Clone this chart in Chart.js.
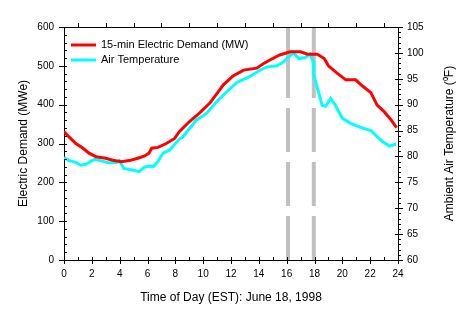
<!DOCTYPE html>
<html>
<head>
<meta charset="utf-8">
<script src="https://cdn.jsdelivr.net/npm/chart.js@4.4.1/dist/chart.umd.min.js"></script>
<style>
    html, body { margin: 0; padding: 0; background: #ffffff; }
    #wrap { width: 469px; height: 321px; }
</style>
</head>
<body>
<div id="wrap"><canvas id="demandChart" width="469" height="321"></canvas></div>
<script>
// 15-min electric demand (MW)
const demandHours = [0, 0.36, 0.85, 1.32, 1.8, 2.3, 3.0, 3.5, 4.1, 4.7, 5.3, 5.8, 6.1, 6.3, 6.75, 7.35, 7.95, 8.3, 9.0, 9.75,
    10.5, 11.0, 11.45, 12.15, 12.9, 13.85, 14.35, 14.8, 15.5, 16.25, 17.0, 17.5, 18.2, 18.7, 19.0, 19.6, 20.25, 20.95,
    21.45, 22.05, 22.5, 23.0, 23.5, 23.9];
const demandMW = [331, 317, 300, 289, 275, 266, 262, 257, 253, 256, 262, 268, 275, 288, 290, 300, 313, 331, 356, 379,
    405, 429, 451, 474, 489, 494, 506, 515, 528, 536, 536, 530, 530, 519, 500, 482, 464, 464,
    448, 431, 399, 382, 361, 341];

// ambient air temperature (F)
const tempHours = [0, 0.36, 0.85, 1.2, 1.56, 1.9, 2.2, 2.6, 3.2, 3.8, 3.97, 4.3, 4.9, 5.4, 5.75, 6.1, 6.4, 6.75, 7.1, 7.6,
    8.27, 8.55, 9.5, 10.24, 10.97, 11.7, 12.4, 13.4, 14.1, 14.6, 15.3, 15.8, 16.0, 16.5, 16.87, 17.35, 17.7, 17.9,
    17.95, 18.25, 18.55, 18.8, 19.16, 19.5, 20.0, 20.6, 21.3, 22.05, 22.5, 22.9, 23.4, 23.86];
const tempF = [79.8, 79.2, 78.85, 78.3, 78.5, 79.0, 79.45, 79.2, 78.8, 78.85, 79.2, 77.7, 77.4, 77.05, 77.9, 78.15, 78.0, 79.0, 80.6, 81.25,
    83.3, 83.8, 87.0, 88.3, 90.6, 92.5, 94.25, 95.5, 96.7, 97.3, 97.5, 98.3, 98.9, 100.0, 98.9, 99.1, 99.8, 98.3,
    95.7, 92.8, 89.9, 89.7, 91.2, 89.9, 87.35, 86.4, 85.6, 85.0, 83.8, 82.85, 82.0, 82.4];

// gray dashed event markers (hour of day)
const eventHours = [16.1, 17.95];

const seriesLabels = ["15-min Electric Demand (MW)", "Air Temperature"];
const hourRange = [0, 24];
const demandRange = [0, 600];
const tempRange = [60, 105];
const rightAxisTitle = "Ambient Air Temperature (\u2070F)";

const fontFamily = "'Liberation Sans', Arial, sans-serif";

function toPoints(xs, ys) {
    return xs.map(function (x, i) { return { x: x, y: ys[i] }; });
}

const frameTicksPlugin = {
    id: "frameTicks",
    afterDraw: function (chart) {
        const ctx = chart.ctx;
        const area = chart.chartArea;
        const xs = chart.scales.x;
        const ys = chart.scales.y;
        const ys1 = chart.scales.y1;

        ctx.save();
        ctx.strokeStyle = "#000000";
        ctx.lineWidth = 1;
        ctx.beginPath();

        // top edge of the frame
        ctx.moveTo(area.left, Math.round(area.top) + 0.5);
        ctx.lineTo(area.right, Math.round(area.top) + 0.5);

        // left axis: major 100, minor 20
        for (let v = demandRange[0]; v <= demandRange[1]; v += 20) {
            const p = Math.round(ys.getPixelForValue(v)) + 0.5;
            const major = v % 100 === 0;
            ctx.moveTo(area.left - (major ? 5 : 0), p);
            ctx.lineTo(area.left + 3, p);
        }

        // right axis: major 5, minor 1
        for (let v = tempRange[0]; v <= tempRange[1]; v += 1) {
            const p = Math.round(ys1.getPixelForValue(v)) + 0.5;
            const major = v % 5 === 0;
            ctx.moveTo(area.right - (major ? 3 : 0), p);
            ctx.lineTo(area.right + (major ? 5 : 3), p);
        }

        // bottom axis: major 2 h, minor 1 h
        for (let h = hourRange[0]; h <= hourRange[1]; h += 1) {
            const p = Math.round(xs.getPixelForValue(h)) + 0.5;
            const major = h % 2 === 0;
            ctx.moveTo(p, area.bottom + (major ? 4 : 0));
            ctx.lineTo(p, area.bottom - 3);
        }

        // top edge ticks
        for (let h = 1; h < hourRange[1]; h += 2) {
            const p = Math.round(xs.getPixelForValue(h)) + 0.5;
            ctx.moveTo(p, area.top);
            ctx.lineTo(p, area.top - 4);
        }
        ctx.stroke();

        // right axis title, reading bottom to top
        ctx.save();
        ctx.translate(450, (area.top + area.bottom) / 2);
        ctx.rotate(-Math.PI / 2);
        ctx.font = "12px " + fontFamily;
        ctx.textAlign = "center";
        ctx.textBaseline = "middle";
        ctx.fillStyle = "#000000";
        ctx.fillText(rightAxisTitle, 0, 0);
        ctx.restore();

        // legend inside the plot
        ctx.font = "11px " + fontFamily;
        ctx.textBaseline = "middle";
        ctx.textAlign = "left";
        ctx.fillStyle = "#000000";
        chart.data.datasets.slice(0, 2).forEach(function (ds, i) {
            const ly = area.top + 18 + i * 15;
            ctx.strokeStyle = ds.borderColor;
            ctx.lineWidth = 3;
            ctx.beginPath();
            ctx.moveTo(area.left + 7, ly);
            ctx.lineTo(area.left + 32, ly);
            ctx.stroke();
            ctx.fillText(ds.label, area.left + 37, ly);
        });
        ctx.restore();
    }
};

const eventDatasets = eventHours.map(function (h) {
    return {
        label: "event",
        data: [{ x: h, y: demandRange[0] }, { x: h, y: demandRange[1] }],
        yAxisID: "y",
        borderColor: "#c0c0c0",
        borderWidth: 4,
        borderDash: [44, 10, 44, 10, 44, 10, 80, 10],
        pointRadius: 0,
        order: 5
    };
});

new Chart(document.getElementById("demandChart"), {
    type: "line",
    plugins: [frameTicksPlugin],
    data: {
        datasets: [
            {
                label: seriesLabels[0],
                data: toPoints(demandHours, demandMW),
                yAxisID: "y",
                borderColor: "#ff0000",
                borderWidth: 3,
                pointRadius: 0,
                tension: 0,
                order: 1
            },
            {
                label: seriesLabels[1],
                data: toPoints(tempHours, tempF),
                yAxisID: "y1",
                borderColor: "#00ffff",
                borderWidth: 3,
                pointRadius: 0,
                tension: 0,
                order: 2
            }
        ].concat(eventDatasets)
    },
    options: {
        responsive: false,
        animation: false,
        devicePixelRatio: 1,
        layout: {
            padding: { top: 27, right: 0, bottom: 0, left: 0 }
        },
        plugins: {
            legend: { display: false },
            tooltip: { enabled: false }
        },
        scales: {
            x: {
                type: "linear",
                min: hourRange[0],
                max: hourRange[1],
                afterFit: function (scale) { scale.height = 61; },
                grid: { display: false, drawTicks: false },
                border: { display: true, color: "#000000", width: 1 },
                ticks: {
                    stepSize: 2,
                    padding: 8,
                    color: "#000000",
                    font: { size: 10, family: fontFamily }
                },
                title: {
                    display: true,
                    text: "Time of Day (EST): June 18, 1998",
                    color: "#000000",
                    font: { size: 12, family: fontFamily },
                    padding: { top: 0, bottom: 16 }
                }
            },
            y: {
                position: "left",
                min: demandRange[0],
                max: demandRange[1],
                afterFit: function (scale) { scale.width = 64; },
                grid: { display: false, drawTicks: false },
                border: { display: true, color: "#000000", width: 1 },
                ticks: {
                    stepSize: 100,
                    padding: 10,
                    color: "#000000",
                    font: { size: 10, family: fontFamily }
                },
                title: {
                    display: true,
                    text: "Electric Demand (MWe)",
                    color: "#000000",
                    font: { size: 12, family: fontFamily },
                    padding: { top: 16, bottom: 0 }
                }
            },
            y1: {
                position: "right",
                min: tempRange[0],
                max: tempRange[1],
                afterFit: function (scale) { scale.width = 71; },
                grid: { display: false, drawTicks: false },
                border: { display: true, color: "#000000", width: 1 },
                ticks: {
                    stepSize: 5,
                    padding: 9,
                    color: "#000000",
                    font: { size: 10, family: fontFamily }
                }
            }
        }
    }
});
</script>
</body>
</html>
